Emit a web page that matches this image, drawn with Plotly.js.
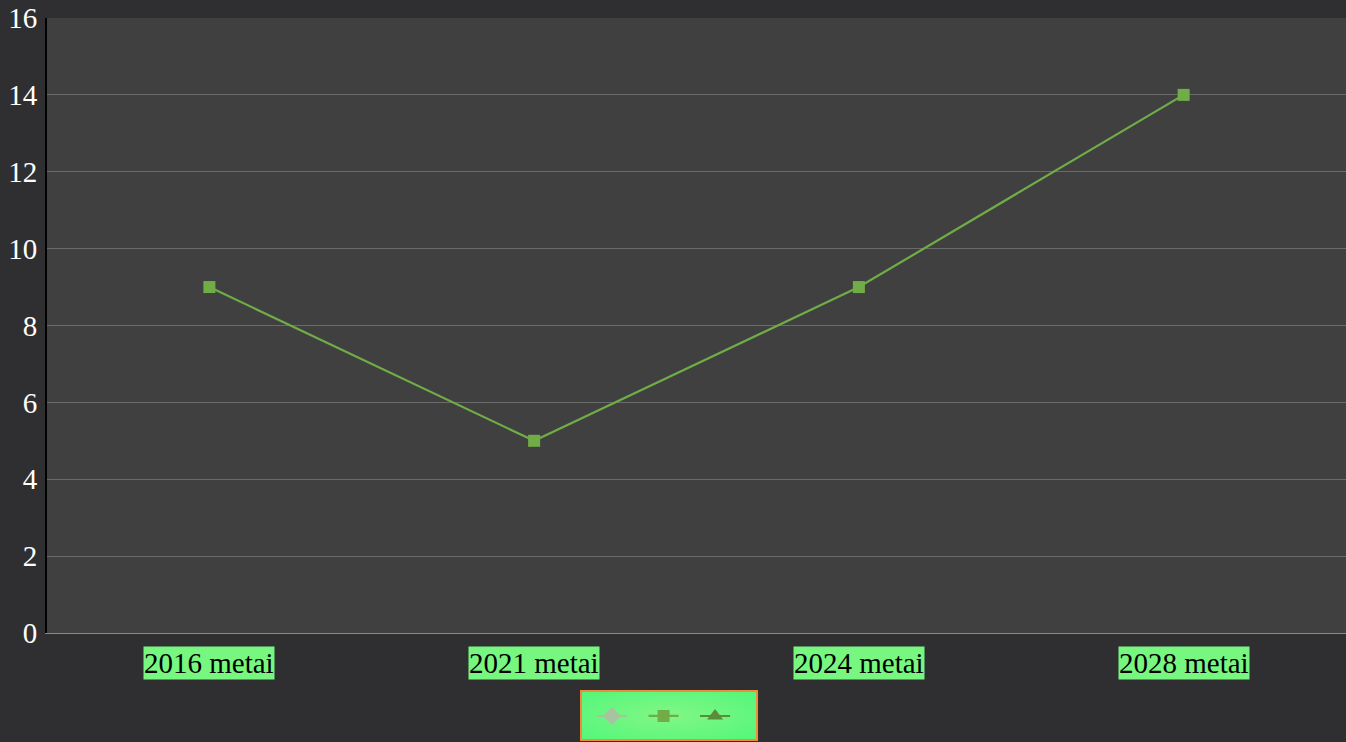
<!DOCTYPE html>
<html>
<head>
<meta charset="utf-8">
<script src="https://cdn.plot.ly/plotly-3.0.1.min.js"></script>
<style>
html,body{margin:0;padding:0;background:#2f2f31;}
#chart{width:1346px;height:742px;}
</style>
</head>
<body>
<div id="chart"></div>
<script>
const categories = ["2016 metai", "2021 metai", "2024 metai", "2028 metai"];
const series1 = [null, null, null, null];
const series2 = [9, 5, 9, 14];
const series3 = [null, null, null, null];
const yTicks = [0, 2, 4, 6, 8, 10, 12, 14, 16];
const legendNames = ["\u00a0", "\u00a0", "\u00a0"];

const traces = [
  {x: categories, y: series1, name: legendNames[0], type: "scatter", mode: "lines+markers",
   line: {color: "#a9c2a0", width: 2}, marker: {symbol: "diamond", size: 14, color: "#a9c2a0"}, showlegend: true},
  {x: categories, y: series2, name: legendNames[1], type: "scatter", mode: "lines+markers",
   line: {color: "#70ad47", width: 2.2}, marker: {symbol: "square", size: 12, color: "#70ad47"}, showlegend: true},
  {x: categories, y: series3, name: legendNames[2], type: "scatter", mode: "lines+markers",
   line: {color: "#5b8c3a", width: 2}, marker: {symbol: "triangle-up", size: 14, color: "#5b8c3a"}, showlegend: true}
];

const annotations = categories.map(c => ({
  x: c, y: 0, xref: "x", yref: "paper", yanchor: "top", yshift: -13,
  text: c, showarrow: false, bgcolor: "#77f77f", borderpad: 0,
  font: {family: "Liberation Serif, serif", size: 29, color: "#000000"}
}));

const gradSvg = '<svg xmlns="http://www.w3.org/2000/svg" width="176" height="49" viewBox="0 0 176 49" preserveAspectRatio="none">' +
  '<defs><radialGradient id="g" cx="50%" cy="50%" r="70%"><stop offset="0" stop-color="#82f686"/>' +
  '<stop offset="1" stop-color="#52f77a"/></radialGradient></defs>' +
  '<rect width="176" height="49" fill="url(#g)"/></svg>';
const gradUri = "data:image/svg+xml;charset=utf-8," + encodeURIComponent(gradSvg);

const layout = {
  width: 1346, height: 742,
  paper_bgcolor: "#2f2f31", plot_bgcolor: "#404040",
  margin: {l: 47, r: 0, t: 18, b: 109},
  showlegend: true,
  legend: {orientation: "h", x: 0.4196, xanchor: "left", y: -0.135, yanchor: "middle",
    bgcolor: "rgba(0,0,0,0)", borderwidth: 0, itemwidth: 30,
    font: {family: "Liberation Serif, serif", size: 26, color: "#000"}},
  xaxis: {type: "category", range: [-0.5, 3.5], showticklabels: false, showgrid: false,
    zeroline: false, showline: true, linecolor: "#8a8a8a", linewidth: 1, ticks: ""},
  yaxis: {range: [0, 16], tickvals: yTicks, ticktext: yTicks.map(String),
    showgrid: true, gridcolor: "#6a6a6a", gridwidth: 1, zeroline: false,
    showline: true, linecolor: "#000000", linewidth: 2, ticks: "", ticklabelstandoff: 2,
    tickfont: {family: "Liberation Serif, serif", size: 29, color: "#ffffff"}},
  images: [{source: gradUri, xref: "paper", yref: "paper", x: 0.4111, y: -0.0943,
    sizex: 0.1355, sizey: 0.0797, xanchor: "left", yanchor: "top", sizing: "stretch", layer: "below"}],
  shapes: [{type: "rect", xref: "paper", yref: "paper", x0: 0.4111, x1: 0.5466, y0: -0.0943, y1: -0.1740,
    line: {color: "#f08a3c", width: 2}, fillcolor: "rgba(0,0,0,0)", layer: "above"}],
  annotations: annotations
};

Plotly.newPlot("chart", traces, layout, {displayModeBar: false});
</script>
</body>
</html>
